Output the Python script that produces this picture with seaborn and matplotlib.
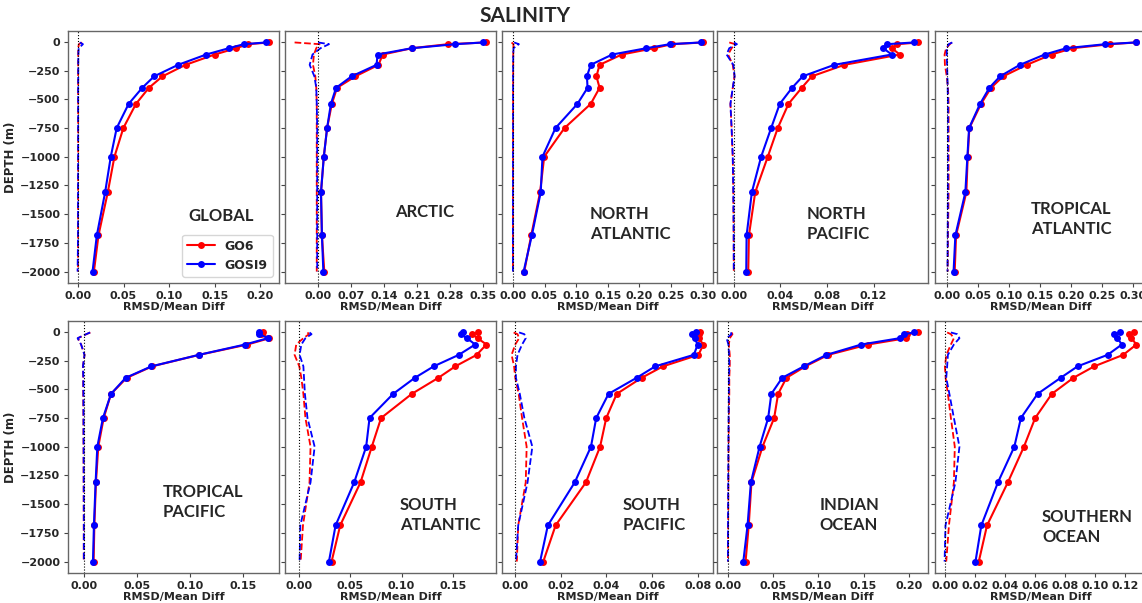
import numpy as np
import pandas as pd
import seaborn as sns
import matplotlib.pyplot as plt

# depth levels (m), plotted as negative depth
depth = [5, 20, 55, 110, 200, 300, 400, 540, 750, 1000, 1310, 1685, 2000]

# RMSD (solid, markers) and mean difference (dashed) for GO6 and GOSI9
global_go6 = [0.210, 0.1865, 0.1735, 0.150, 0.118, 0.0927, 0.0778, 0.0636, 0.0498, 0.040, 0.0327, 0.0225, 0.0175]
global_gosi9 = [0.2065, 0.182, 0.1655, 0.1407, 0.1098, 0.0836, 0.0705, 0.0556, 0.0425, 0.036, 0.0298, 0.0207, 0.016]
global_go6_mean = [0.0045, 0.001, 0.0003, 0.0003, 0.0002, 0.0002, 0.0002, 0.0002, 0.0002, 0.0002, 0.0001, 0.0001, 0.0001]
global_gosi9_mean = [0.002, 0.0055, 0.0008, 0.0004, 0.0003, 0.0003, 0.0002, 0.0002, 0.0002, 0.0002, 0.0001, 0.0001, -0.0004]

arctic_go6 = [0.357, 0.276, 0.199, 0.137, 0.128, 0.079, 0.040, 0.029, 0.019, 0.012, 0.006, 0.008, 0.013]
arctic_gosi9 = [0.350, 0.291, 0.199, 0.126, 0.124, 0.071, 0.038, 0.027, 0.019, 0.012, 0.006, 0.008, 0.011]
arctic_go6_mean = [-0.05, 0.003, -0.004, -0.009, -0.011, -0.006, -0.004, -0.003, -0.003, -0.003, -0.003, -0.003, -0.003]
arctic_gosi9_mean = [0.0, 0.023, 0.005, -0.012, -0.018, -0.008, -0.004, -0.003, -0.002, -0.002, -0.002, -0.002, -0.002]

natl_go6 = [0.301, 0.251, 0.223, 0.172, 0.137, 0.132, 0.137, 0.123, 0.0816, 0.0495, 0.043, 0.029, 0.018]
natl_gosi9 = [0.297, 0.248, 0.211, 0.157, 0.123, 0.117, 0.118, 0.102, 0.0674, 0.0468, 0.044, 0.030, 0.017]
natl_go6_mean = [-0.002, 0.001, 0.0008, 0.0006, 0.0005, 0.0005, 0.0004, 0.0004, 0.0003, 0.0003, 0.0002, 0.0002, 0.0001]
natl_gosi9_mean = [0.002, 0.0095, 0.001, 0.0006, 0.0005, 0.0004, 0.0004, 0.0003, 0.0003, 0.0002, 0.0002, 0.0001, 0.0001]

npac_go6 = [0.1586, 0.1406, 0.1357, 0.1426, 0.0949, 0.0669, 0.0583, 0.0469, 0.0377, 0.0291, 0.0183, 0.0129, 0.0123]
npac_gosi9 = [0.1546, 0.132, 0.1283, 0.1357, 0.0863, 0.0591, 0.050, 0.0394, 0.032, 0.0234, 0.0154, 0.0109, 0.0106]
npac_go6_mean = [-0.004, 0.001, -0.002, -0.005, -0.001, 0.0005, -0.001, -0.003, -0.002, -0.001, -0.0005, -0.0002, -0.0001]
npac_gosi9_mean = [0.0, 0.0026, -0.004, -0.0063, -0.0005, 0.0006, -0.001, -0.003, -0.002, -0.001, -0.0005, -0.0002, -0.0001]

tatl_go6 = [0.305, 0.263, 0.202, 0.168, 0.128, 0.090, 0.0704, 0.0543, 0.0355, 0.0328, 0.0306, 0.014, 0.0118]
tatl_gosi9 = [0.304, 0.255, 0.192, 0.157, 0.117, 0.085, 0.0677, 0.0527, 0.035, 0.0323, 0.029, 0.0129, 0.010]
tatl_go6_mean = [0.007, 0.004, -0.002, -0.0045, -0.004, -0.001, 0.001, 0.002, 0.002, 0.002, 0.002, 0.001, 0.0005]
tatl_gosi9_mean = [0.008, 0.002, -0.001, -0.001, -0.0005, 0.0, 0.0005, 0.001, 0.001, 0.001, 0.0008, 0.0005, 0.0002]

tpac_go6 = [0.168, 0.167, 0.1745, 0.1538, 0.1084, 0.064, 0.040, 0.0252, 0.0183, 0.0132, 0.011, 0.0095, 0.0088]
tpac_gosi9 = [0.165, 0.165, 0.173, 0.1516, 0.108, 0.0633, 0.039, 0.0252, 0.0176, 0.0123, 0.0107, 0.0091, 0.0082]
tpac_go6_mean = [0.0057, 0.002, -0.006, -0.003, 0.0003, -0.0013, -0.001, -0.001, -0.0008, -0.0007, -0.0006, -0.0005, -0.0005]
tpac_gosi9_mean = [0.0055, 0.0018, -0.0063, -0.003, 0.0002, -0.0012, -0.0009, -0.0008, -0.0007, -0.0006, -0.0005, -0.0004, -0.0004]

satl_go6 = [0.1744, 0.169, 0.1744, 0.183, 0.1735, 0.1526, 0.136, 0.110, 0.080, 0.0709, 0.0599, 0.040, 0.0316]
satl_gosi9 = [0.1604, 0.158, 0.164, 0.172, 0.156, 0.1315, 0.113, 0.0918, 0.0687, 0.0654, 0.0537, 0.0355, 0.029]
satl_go6_mean = [0.008, 0.0095, 0.004, -0.003, -0.0046, 0.0, 0.002, 0.004, 0.006, 0.011, 0.010, 0.0036, 0.0013]
satl_gosi9_mean = [0.010, 0.012, 0.006, 0.002, 0.0003, 0.004, 0.0046, 0.0055, 0.008, 0.015, 0.011, 0.001, 0.0003]

spac_go6 = [0.081, 0.0804, 0.0804, 0.0825, 0.0803, 0.0648, 0.0554, 0.0445, 0.0399, 0.0372, 0.031, 0.0177, 0.0123]
spac_gosi9 = [0.0793, 0.0774, 0.0786, 0.080, 0.0783, 0.0614, 0.0532, 0.0409, 0.0355, 0.0332, 0.0261, 0.0143, 0.0109]
spac_go6_mean = [-0.0007, 0.001, 0.0017, 0.0, -0.0016, -0.0005, 0.0, 0.0015, 0.003, 0.005, 0.0046, 0.0013, 0.0007]
spac_gosi9_mean = [0.0017, 0.004, 0.0046, 0.003, 0.001, 0.0003, 0.0003, 0.002, 0.004, 0.0075, 0.0054, 0.0013, 0.0003]

ind_go6 = [0.2107, 0.198, 0.197, 0.155, 0.111, 0.0857, 0.0647, 0.0555, 0.0511, 0.0382, 0.026, 0.023, 0.0195]
ind_gosi9 = [0.206, 0.195, 0.190, 0.1475, 0.109, 0.084, 0.060, 0.048, 0.0445, 0.035, 0.0254, 0.0217, 0.017]
ind_go6_mean = [0.004, 0.005, 0.002, 0.001, 0.002, 0.002, 0.0015, 0.0015, 0.001, 0.0007, 0.0005, 0.0002, 0.0]
ind_gosi9_mean = [0.003, 0.004, -0.0015, 0.0005, 0.0012, 0.0015, 0.001, 0.001, 0.0007, 0.0005, 0.0003, 0.0001, 0.0]

south_go6 = [0.126, 0.1226, 0.1244, 0.1277, 0.1189, 0.0996, 0.0857, 0.0713, 0.0602, 0.0527, 0.042, 0.0281, 0.0226]
south_gosi9 = [0.117, 0.113, 0.115, 0.118, 0.1085, 0.0885, 0.0772, 0.0618, 0.0507, 0.0463, 0.0354, 0.0243, 0.0204]
south_go6_mean = [0.0015, 0.004, 0.006, 0.004, 0.001, 0.0, 0.0005, 0.002, 0.004, 0.0066, 0.006, 0.0027, 0.0009]
south_gosi9_mean = [0.004, 0.0082, 0.0097, 0.006, 0.002, 0.0015, 0.0009, 0.003, 0.006, 0.0097, 0.007, 0.0004, -0.0002]

models = ["GO6", "GOSI9"]
colors = {"GO6": "red", "GOSI9": "blue"}

# name, rmsd/mean series, x ticks, label position (axes coords)
regions = [
    ("GLOBAL", global_go6, global_gosi9, global_go6_mean, global_gosi9_mean, [0, 0.05, 0.10, 0.15, 0.20], (0.57, 0.266)),
    ("ARCTIC", arctic_go6, arctic_gosi9, arctic_go6_mean, arctic_gosi9_mean, [0, 0.07, 0.14, 0.21, 0.28, 0.35], (0.52, 0.282)),
    ("NORTH\nATLANTIC", natl_go6, natl_gosi9, natl_go6_mean, natl_gosi9_mean, [0, 0.05, 0.10, 0.15, 0.20, 0.25, 0.30], (0.417, 0.234)),
    ("NORTH\nPACIFIC", npac_go6, npac_gosi9, npac_go6_mean, npac_gosi9_mean, [0, 0.04, 0.08, 0.12], (0.425, 0.234)),
    ("TROPICAL\nATLANTIC", tatl_go6, tatl_gosi9, tatl_go6_mean, tatl_gosi9_mean, [0, 0.05, 0.10, 0.15, 0.20, 0.25, 0.30], (0.455, 0.254)),
    ("TROPICAL\nPACIFIC", tpac_go6, tpac_gosi9, tpac_go6_mean, tpac_gosi9_mean, [0, 0.05, 0.10, 0.15], (0.45, 0.282)),
    ("SOUTH\nATLANTIC", satl_go6, satl_gosi9, satl_go6_mean, satl_gosi9_mean, [0, 0.05, 0.10, 0.15], (0.545, 0.23)),
    ("SOUTH\nPACIFIC", spac_go6, spac_gosi9, spac_go6_mean, spac_gosi9_mean, [0, 0.02, 0.04, 0.06, 0.08], (0.573, 0.23)),
    ("INDIAN\nOCEAN", ind_go6, ind_gosi9, ind_go6_mean, ind_gosi9_mean, [0, 0.05, 0.10, 0.15, 0.20], (0.486, 0.23)),
    ("SOUTHERN\nOCEAN", south_go6, south_gosi9, south_go6_mean, south_gosi9_mean, [0, 0.02, 0.04, 0.06, 0.08, 0.10, 0.12], (0.507, 0.183)),
]

sns.set_style("ticks")
plt.rcParams["font.family"] = ["DejaVu Sans"]
plt.rcParams["font.weight"] = "bold"
plt.rcParams["axes.labelweight"] = "bold"
plt.rcParams["axes.edgecolor"] = "#666666"

fig = plt.figure(figsize=(11.42, 6.03), dpi=100)

lefts = [68, 285, 502, 717, 935]
tops = [31, 321]
W, H = 1142, 603

for i, (name, go6, gosi9, go6_mean, gosi9_mean, xt, lpos) in enumerate(regions):
    row, col = divmod(i, 5)
    ax = fig.add_axes([lefts[col] / W, 1 - (tops[row] + 252) / H, 211 / W, 252 / H])

    rmsd = pd.DataFrame({
        "depth": [-d for d in depth] * 2,
        "value": go6 + gosi9,
        "model": ["GO6"] * len(depth) + ["GOSI9"] * len(depth),
    })
    mean = pd.DataFrame({
        "depth": [-d for d in depth] * 2,
        "value": go6_mean + gosi9_mean,
        "model": ["GO6"] * len(depth) + ["GOSI9"] * len(depth),
    })

    sns.lineplot(data=rmsd, x="value", y="depth", hue="model", palette=colors,
                 hue_order=models, sort=False, estimator=None, orient="y",
                 marker="o", markersize=5, markeredgewidth=0, linewidth=1.5,
                 legend=False, ax=ax)
    sns.lineplot(data=mean, x="value", y="depth", hue="model", palette=colors,
                 hue_order=models, sort=False, estimator=None, orient="y",
                 linestyle="--", linewidth=1.3, legend=False, ax=ax)
    ax.axvline(0, color="black", linestyle=":", linewidth=0.8)

    ax.set_yticks(np.arange(-2000, 1, 250))
    ax.set_xticks(xt)
    ax.set_xticklabels([f"{t:.2f}" for t in xt])
    ax.tick_params(labelsize=8, length=3, width=0.8, color="#444444", pad=2.5)
    ax.set_xlabel("RMSD/Mean Diff", fontsize=8, labelpad=1)
    if col == 0:
        ax.set_ylabel("DEPTH (m)", fontsize=8.5, labelpad=2)
    else:
        ax.set_ylabel("")
        ax.set_yticklabels([])
    for s in ax.spines.values():
        s.set_linewidth(1.0)

    ax.text(lpos[0], lpos[1], name, transform=ax.transAxes, fontsize=12,
            fontweight="bold", family="Lato", ha="left", va="center",
            multialignment="left", linespacing=1.25)

    if name == "GLOBAL":
        ax.legend(ax.lines[:2], models, loc="lower right",
                  prop={"weight": "bold", "size": 9}, handlelength=2.2)

fig.text(525 / W, 1 - 16 / H, "SALINITY", ha="center", va="center",
         fontsize=15, fontweight="bold", family="Lato")

plt.savefig("out.png", dpi=100)
